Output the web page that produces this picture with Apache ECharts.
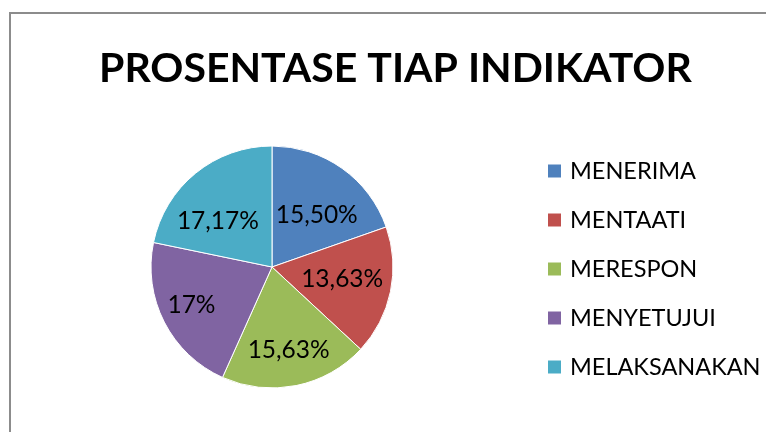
<!DOCTYPE html>
<html><head><meta charset="utf-8">
<script src="https://cdn.jsdelivr.net/npm/echarts@6/dist/echarts.min.js"></script>
<style>html,body{margin:0;padding:0;background:#fff}#c{width:766px;height:432px}</style>
</head><body><div id="c"></div>
<script>
const categories = ['MENERIMA', 'MENTAATI', 'MERESPON', 'MENYETUJUI', 'MELAKSANAKAN'];
const values = [15.50, 13.63, 15.63, 17, 17.17];
const labelTexts = ['15,50%', '13,63%', '15,63%', '17%', '17,17%'];

const colors = ['#4F81BD', '#C0504D', '#9BBB59', '#8064A2', '#4BACC6'];
const labelOffsets = [[8, 0], [8, -1], [4, 21], [-24, 9], [-14, 3]];
const FONT = 'Lato, "Open Sans", sans-serif';

const chart = echarts.init(document.getElementById('c'));
chart.setOption({
  animation: false,
  color: colors,
  title: {
    text: 'PROSENTASE TIAP INDIKATOR',
    left: 94, top: 43,
    textStyle: { fontFamily: FONT, fontWeight: 'bold', fontSize: 41, color: '#000' }
  },
  legend: {
    orient: 'vertical', left: 546, top: 159, padding: 0,
    itemWidth: 15, itemHeight: 15, itemGap: 25,
    icon: 'rect',
    textStyle: { fontFamily: FONT, fontSize: 23.5, color: '#000', padding: [0, 0, 0, 3] },
    data: categories
  },
  graphic: [{
    type: 'rect', silent: true, z: -1,
    shape: { x: 10, y: 13, width: 800, height: 500 },
    style: { fill: 'none', stroke: '#8c8c8c', lineWidth: 2 }
  }],
  series: [{
    type: 'pie',
    center: [272, 267], radius: 121,
    startAngle: 90, clockwise: true,
    itemStyle: { borderColor: '#fff', borderWidth: 1 },
    label: { show: true, position: 'inner', fontFamily: FONT, fontSize: 24.5, color: '#000' },
    labelLine: { show: false },
    emphasis: { disabled: true },
    data: categories.map((name, i) => ({
      name, value: values[i],
      label: { formatter: labelTexts[i], offset: labelOffsets[i] }
    }))
  }]
});
</script></body></html>
